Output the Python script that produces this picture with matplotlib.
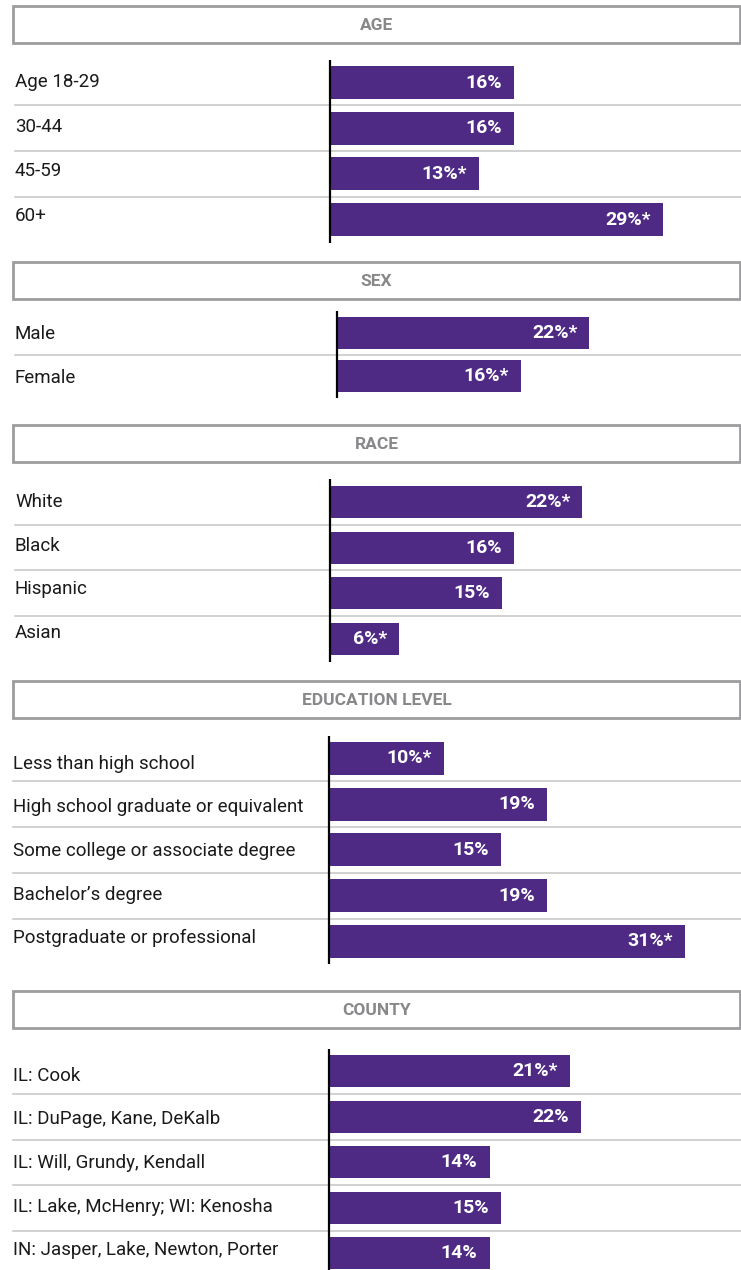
import matplotlib.pyplot as plt
from matplotlib.patches import Rectangle
from matplotlib.transforms import ScaledTranslation

# section data
age_labels = ['Age 18-29', '30-44', '45-59', '60+']
age_values = [16, 16, 13, 29]
age_sig = [False, False, True, True]

sex_labels = ['Male', 'Female']
sex_values = [22, 16]
sex_sig = [True, True]

race_labels = ['White', 'Black', 'Hispanic', 'Asian']
race_values = [22, 16, 15, 6]
race_sig = [True, False, False, True]

edu_labels = ['Less than high school', 'High school graduate or equivalent',
              'Some college or associate degree', 'Bachelor\u2019s degree',
              'Postgraduate or professional']
edu_values = [10, 19, 15, 19, 31]
edu_sig = [True, False, False, False, True]

county_labels = ['IL: Cook', 'IL: DuPage, Kane, DeKalb', 'IL: Will, Grundy, Kendall',
                 'IL: Lake, McHenry; WI: Kenosha', 'IN: Jasper, Lake, Newton, Porter']
county_values = [21, 22, 14, 15, 14]
county_sig = [True, False, False, False, False]

PURPLE = '#4E2A84'
GRAY_TEXT = '#88888b'
GRAY_BOX = '#9d9da0'
GRAY_RULE = '#cacaca'

W, H = 741, 1270
PX_PER_PCT = 11.47

plt.rcParams['font.family'] = ['Roboto', 'DejaVu Sans']

fig = plt.figure(figsize=(W / 100, H / 100), dpi=100)


def header(title, top, bottom):
    fig.patches.append(Rectangle((13 / W, 1 - bottom / H), (740 - 13) / W, (bottom - top) / H,
                                 transform=fig.transFigure, facecolor='white',
                                 edgecolor=GRAY_BOX, lw=2.0))
    fig.text(376.5 / W, 1 - ((top + bottom) / 2 + 1) / H, title, ha='center', va='center',
             fontsize=12.5, fontweight='bold', color=GRAY_TEXT)


def section(labels, values, sig, top, pitch, axis_x, label_x, label_y0, label_pitch, bar_h=33):
    n = len(values)
    ax = fig.add_axes([0, 1 - (top + n * pitch) / H, 1, n * pitch / H])
    ax.set_xlim(-axis_x / PX_PER_PCT, (W - axis_x) / PX_PER_PCT)
    ax.set_ylim(n - 0.5, -0.5)
    ax.axis('off')
    rows = list(range(n))
    ax.barh(rows, values, height=bar_h / pitch, left=0, color=PURPLE, zorder=2)
    for i in rows[:-1]:
        ax.axhline(i + 0.5, xmin=label_x / W, xmax=1, color=GRAY_RULE, lw=1.2, zorder=1)
    ax.axvline(0, color='black', lw=1.6, zorder=3)
    pad = ScaledTranslation(-12 / 100, 0, fig.dpi_scale_trans)
    for i, (lab, v, s) in enumerate(zip(labels, values, sig)):
        fig.text(label_x / W, 1 - (label_y0 + i * label_pitch) / H, lab,
                 ha='left', va='center', fontsize=13.5, color='#1a1a1a')
        ax.text(v, i, f'{v}%' + ('*' if s else ''), transform=ax.transData + pad,
                ha='right', va='center', fontsize=14, fontweight='bold',
                color='white', zorder=4)


header('AGE', 6, 43)
section(age_labels, age_values, age_sig, top=59.7, pitch=45.7, axis_x=330, label_x=15,
        label_y0=82, label_pitch=44.7)

header('SEX', 262, 299)
section(sex_labels, sex_values, sex_sig, top=311, pitch=43.5, axis_x=337, label_x=15,
        label_y0=334, label_pitch=44, bar_h=32)

header('RACE', 425, 462)
section(race_labels, race_values, race_sig, top=479, pitch=45.7, axis_x=330, label_x=15,
        label_y0=502, label_pitch=43.7, bar_h=32)

header('EDUCATION LEVEL', 681, 718)
section(edu_labels, edu_values, edu_sig, top=735.6, pitch=45.75, axis_x=329, label_x=13,
        label_y0=764, label_pitch=43.5)

header('COUNTY', 991, 1028)
section(county_labels, county_values, county_sig, top=1048.5, pitch=45.5, axis_x=329, label_x=13,
        label_y0=1076, label_pitch=43.5, bar_h=32)

fig.savefig('out.png', dpi=100, facecolor='white')
